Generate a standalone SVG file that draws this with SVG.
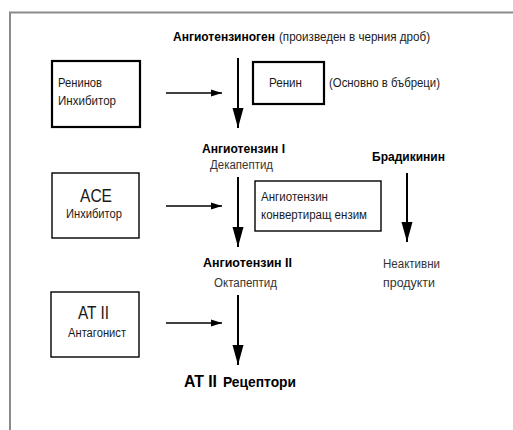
<svg xmlns="http://www.w3.org/2000/svg" width="513" height="430" viewBox="0 0 513 430">
<defs>
<style>
text{font-family:"Liberation Sans","Noto Sans",Arial,sans-serif;fill:#1a1a1a;}
.t{font-size:12.5px;}
.b{font-weight:bold;fill:#000;}
.g{fill:#333;}
.big{font-size:18px;}
.box{fill:#fff;stroke:#000;}
.thick{stroke-width:2.2;}
.thin{stroke-width:1.4;}
.v{stroke:#000;stroke-width:2;fill:none;}
.h{stroke:#000;stroke-width:1.7;fill:none;}
</style>
<marker id="vh" markerUnits="userSpaceOnUse" viewBox="0 -6 20 12" refX="20" refY="0" markerWidth="20" markerHeight="12" orient="auto">
<path d="M0,-5.5 L20,0 L0,5.5 Z" fill="#000"/>
</marker>
<marker id="hh" markerUnits="userSpaceOnUse" viewBox="0 -4 11 8" refX="11" refY="0" markerWidth="11" markerHeight="8" orient="auto">
<path d="M0,-3.5 L11,0 L0,3.5 Z" fill="#000"/>
</marker>
</defs>
<rect width="513" height="430" fill="#fff"/>
<path d="M10,430 V12.5 H513" fill="none" stroke="#8a8a8a" stroke-width="2"/>

<g id="angiotensinogen">
<text class="t b" x="173" y="41" textLength="102" lengthAdjust="spacingAndGlyphs">Ангиотензиноген</text>
<text class="t" x="279" y="41" textLength="151" lengthAdjust="spacingAndGlyphs">(произведен в черния дроб)</text>
</g>

<g id="renin-inhibitor">
<rect class="box thick" x="52" y="61" width="88" height="66"/>
<text class="t" x="58" y="87" font-size="13" textLength="44" lengthAdjust="spacingAndGlyphs">Ренинов</text>
<text class="t" x="58" y="105" font-size="13" textLength="58" lengthAdjust="spacingAndGlyphs">Инхибитор</text>
</g>

<g id="renin">
<rect class="box thick" x="253" y="62" width="71" height="42"/>
<text class="t" x="269" y="87" textLength="33" lengthAdjust="spacingAndGlyphs">Ренин</text>
<text class="t" x="329" y="87" textLength="111" lengthAdjust="spacingAndGlyphs">(Основно в бъбреци)</text>
</g>

<g id="angiotensin-1">
<text class="t b" x="202" y="153" textLength="83" lengthAdjust="spacingAndGlyphs">Ангиотензин I</text>
<text class="t g" x="210" y="169" textLength="63" lengthAdjust="spacingAndGlyphs">Декапептид</text>
</g>

<g id="bradykinin">
<text class="t b" x="372" y="161" textLength="73" lengthAdjust="spacingAndGlyphs">Брадикинин</text>
</g>

<g id="ace-inhibitor">
<rect class="box thin" x="52" y="173" width="87" height="65"/>
<text class="big" x="80" y="202" textLength="32" lengthAdjust="spacingAndGlyphs">ACE</text>
<text class="t" x="66" y="218" textLength="56" lengthAdjust="spacingAndGlyphs">Инхибитор</text>
</g>

<g id="ace">
<rect class="box thin" x="255" y="181" width="126" height="50"/>
<text class="t" x="261" y="201" textLength="67" lengthAdjust="spacingAndGlyphs">Ангиотензин</text>
<text class="t" x="261" y="219" textLength="106" lengthAdjust="spacingAndGlyphs">конвертиращ ензим</text>
</g>

<g id="angiotensin-2">
<text class="t b" x="203" y="267" textLength="89" lengthAdjust="spacingAndGlyphs">Ангиотензин II</text>
<text class="t g" x="214" y="287" textLength="63" lengthAdjust="spacingAndGlyphs">Октапептид</text>
</g>

<g id="inactive-products">
<text class="t g" x="383" y="268" textLength="57" lengthAdjust="spacingAndGlyphs">Неактивни</text>
<text class="t g" x="383" y="287" textLength="52" lengthAdjust="spacingAndGlyphs">продукти</text>
</g>

<g id="at2-antagonist">
<rect class="box thin" x="51" y="292" width="88" height="65"/>
<text class="big" x="78" y="319" font-size="19" textLength="31" lengthAdjust="spacingAndGlyphs">AT II</text>
<text class="t" x="68" y="337" textLength="58" lengthAdjust="spacingAndGlyphs">Антагонист</text>
</g>

<g id="at2-receptors">
<text class="b" x="184" y="387" font-size="16.5" textLength="33" lengthAdjust="spacingAndGlyphs">AT II</text>
<text class="b" x="223" y="387" font-size="14.5" textLength="73" lengthAdjust="spacingAndGlyphs">Рецептори</text>
</g>

<g id="connectors">
<line class="v" x1="238" y1="58" x2="238" y2="128" marker-end="url(#vh)"/>
<line class="v" x1="238" y1="177" x2="238" y2="247" marker-end="url(#vh)"/>
<line class="v" x1="238" y1="295" x2="238" y2="365" marker-end="url(#vh)"/>
<line class="v" x1="407" y1="173" x2="407" y2="242" marker-end="url(#vh)"/>
<line class="h" x1="166" y1="93" x2="222" y2="93" marker-end="url(#hh)"/>
<line class="h" x1="166" y1="206" x2="222" y2="206" marker-end="url(#hh)"/>
<line class="h" x1="166" y1="323" x2="222" y2="323" marker-end="url(#hh)"/>
</g>
</svg>
